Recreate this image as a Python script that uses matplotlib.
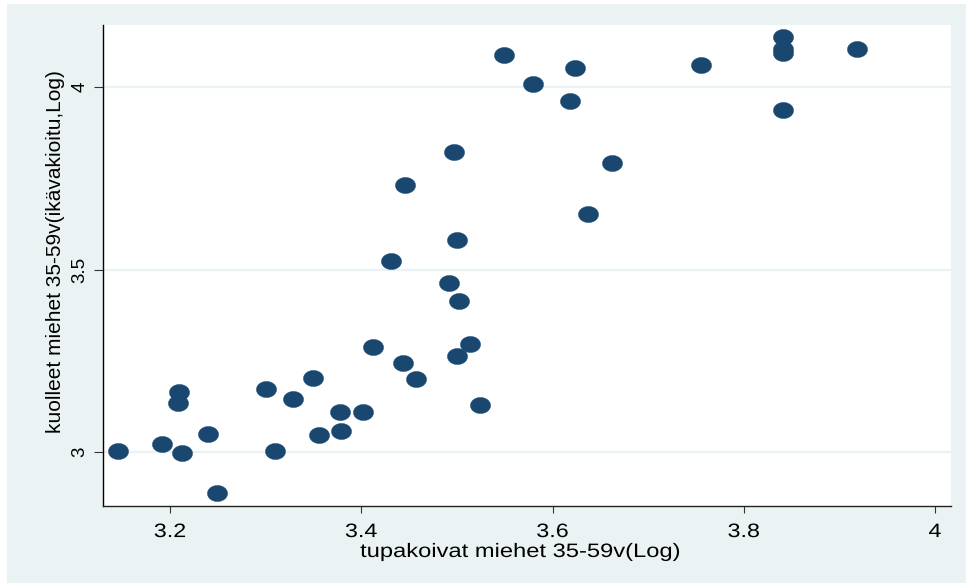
import numpy as np
import matplotlib.pyplot as plt
from matplotlib.path import Path
from matplotlib.patches import Rectangle
from matplotlib.patheffects import AbstractPathEffect
from matplotlib.transforms import Affine2D

plt.rcParams['font.family'] = ['Liberation Sans', 'DejaVu Sans']

# tupakoivat miehet 35-59v (Log)
smokers = [3.146, 3.192, 3.209, 3.208, 3.213, 3.240, 3.249, 3.300, 3.310, 3.329,
           3.349, 3.356, 3.378, 3.379, 3.402, 3.412, 3.444, 3.457, 3.431, 3.446,
           3.492, 3.500, 3.502, 3.500, 3.514, 3.524, 3.497, 3.549, 3.580, 3.618,
           3.624, 3.637, 3.662, 3.755, 3.841, 3.841, 3.841, 3.841, 3.918]
# kuolleet miehet 35-59v (ikävakioitu, Log)
deaths = [3.003, 3.022, 3.164, 3.134, 2.997, 3.049, 2.888, 3.173, 3.003, 3.145,
          3.203, 3.047, 3.110, 3.058, 3.110, 3.288, 3.244, 3.200, 3.523, 3.732,
          3.463, 3.581, 3.414, 3.263, 3.296, 3.129, 3.822, 4.088, 4.008, 3.962,
          4.052, 3.652, 3.792, 4.060, 4.137, 4.104, 4.093, 3.937, 4.104]

xticks = [3.2, 3.4, 3.6, 3.8, 4.0]
xtick_labels = ['3.2', '3.4', '3.6', '3.8', '4']
yticks = [3.0, 3.5, 4.0]
ytick_labels = ['3', '3.5', '4']

bg = '#eaf2f3'
navy = '#1a476f'


class StretchX(AbstractPathEffect):
    """widen text sideways around its own centre (the source image is stretched)"""
    def __init__(self, sx):
        super().__init__()
        self.sx = sx

    def draw_path(self, renderer, gc, tpath, affine, rgbFace=None):
        bb = tpath.get_extents(affine)
        cx = 0.5 * (bb.x0 + bb.x1)
        tr = affine + Affine2D().translate(-cx, 0).scale(self.sx, 1).translate(cx, 0)
        renderer.draw_path(gc, tpath, tr, rgbFace)


W, H = 966, 583
fig = plt.figure(figsize=(W / 100, H / 100), dpi=100, facecolor='white')
# light outer panel (stata-like)
fig.patches.append(Rectangle((7 / W, 0), 1 - 7 / W, 1 - 4 / H, transform=fig.transFigure,
                             facecolor=bg, edgecolor='none', zorder=-10))

ax = fig.add_axes([103 / W, 1 - 506 / H, (951 - 103) / W, (506 - 25) / H])
ax.set_facecolor('white')

# ellipse marker
t = np.linspace(0, 2 * np.pi, 60)
ell = Path(np.column_stack([np.cos(t), 0.8 * np.sin(t)]), closed=True)
ax.plot(smokers, deaths, linestyle='none', marker=ell, markersize=14.5,
        color=navy, markeredgecolor=navy, markeredgewidth=0.3, zorder=3)

ax.set_xlim(3.1299, 4.0167)
ax.set_ylim(2.852, 4.170)
ax.set_xticks(xticks)
ax.set_xticklabels(xtick_labels)
ax.set_yticks(yticks)
ax.set_yticklabels(ytick_labels, rotation=90, va='center')

for y in yticks:
    ax.axhline(y, color=bg, lw=1.6, zorder=1)

for s in ['top', 'right']:
    ax.spines[s].set_visible(False)
ax.spines['left'].set_color('black')
ax.spines['bottom'].set_color('#222222')
for s in ['left', 'bottom']:
    ax.spines[s].set_linewidth(1.0)

ax.tick_params(axis='x', direction='out', length=5, width=0.8, color='#333333',
               labelsize=14, labelcolor='black', pad=8)
ax.tick_params(axis='y', direction='out', length=6.5, width=0.8, color='#333333',
               labelsize=13.5, labelcolor='black', pad=4)
for lab in ax.get_xticklabels():
    lab.set_path_effects([StretchX(1.2)])

xl = fig.text(521 / W, 1 - 557 / H, 'tupakoivat miehet 35-59v(Log)', ha='center',
              va='baseline', fontsize=14)
xl.set_path_effects([StretchX(1.22)])
fig.text(56 / W, 1 - 252 / H, 'kuolleet miehet 35-59v(ikävakioitu,Log)', ha='center',
         va='center', rotation=90, fontsize=15)

fig.savefig('out.png', dpi=100, facecolor=fig.get_facecolor())
